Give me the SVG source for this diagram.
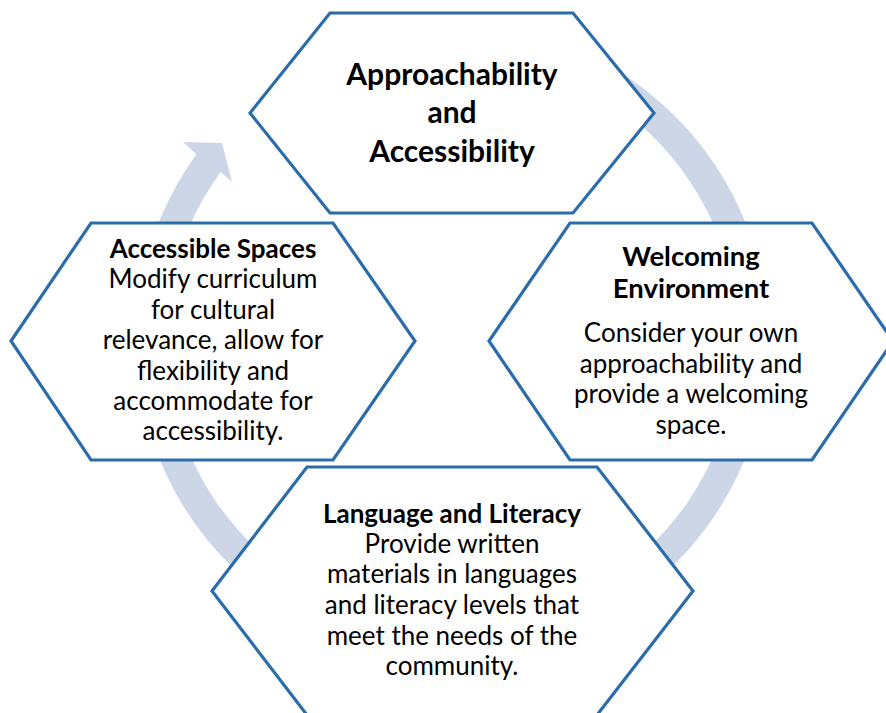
<svg xmlns="http://www.w3.org/2000/svg" width="886" height="713" viewBox="0 0 886 713">
<style>
.hex{fill:#fff;stroke:#2B6CAB;stroke-width:3.2;stroke-linejoin:miter}
.ring{fill:#CDD6E7;stroke:none}
text{font-family:Lato,"Liberation Sans",sans-serif;font-size:26px;fill:#000;text-anchor:middle}
.b{font-weight:bold}
.t{font-size:30px}
.w{font-size:27.5px}
</style>
<rect width="886" height="713" fill="#fff"/>
<g id="connectors">
<path class="ring" d="M 424.5 25.2 A 316 316 0 1 1 196.4 154.3 L 183 142 L 222 143 L 232 182 L 220.6 171.9 A 286 286 0 1 0 427.1 55.1 Z"/>
</g>
<g id="node-top">
<polygon class="hex" points="250,113 330,13 573,13 654,113 573,213 330,213"/>
<text class="b t" x="452" y="85">Approachability</text>
<text class="b t" x="452" y="123">and</text>
<text class="b t" x="452" y="162">Accessibility</text>
</g>
<g id="node-right">
<polygon class="hex" points="489,341 570,223 812,223 893,341 812,460 570,460"/>
<text class="b w" x="691" y="266">Welcoming</text>
<text class="b w" x="691" y="298">Environment</text>
<text x="691" y="342">Consider your own</text>
<text x="691" y="373">approachability and</text>
<text x="691" y="403">provide a welcoming</text>
<text x="691" y="434">space.</text>
</g>
<g id="node-left">
<polygon class="hex" points="11,341 91,223 333,223 415,341 333,460 91,460"/>
<text class="b" x="213" y="258">Accessible Spaces</text>
<text x="213" y="288">Modify curriculum</text>
<text x="213" y="319">for cultural</text>
<text x="213" y="349">relevance, allow for</text>
<text x="213" y="380">flexibility and</text>
<text x="213" y="410">accommodate for</text>
<text x="213" y="440">accessibility.</text>
</g>
<g id="node-bottom">
<polygon class="hex" points="212,591 307,467 597,467 693,591 597,715 307,715"/>
<text class="b" x="452" y="523">Language and Literacy</text>
<text x="452" y="553">Provide written</text>
<text x="452" y="583">materials in languages</text>
<text x="452" y="614">and literacy levels that</text>
<text x="452" y="645">meet the needs of the</text>
<text x="452" y="675">community.</text>
</g>
</svg>
